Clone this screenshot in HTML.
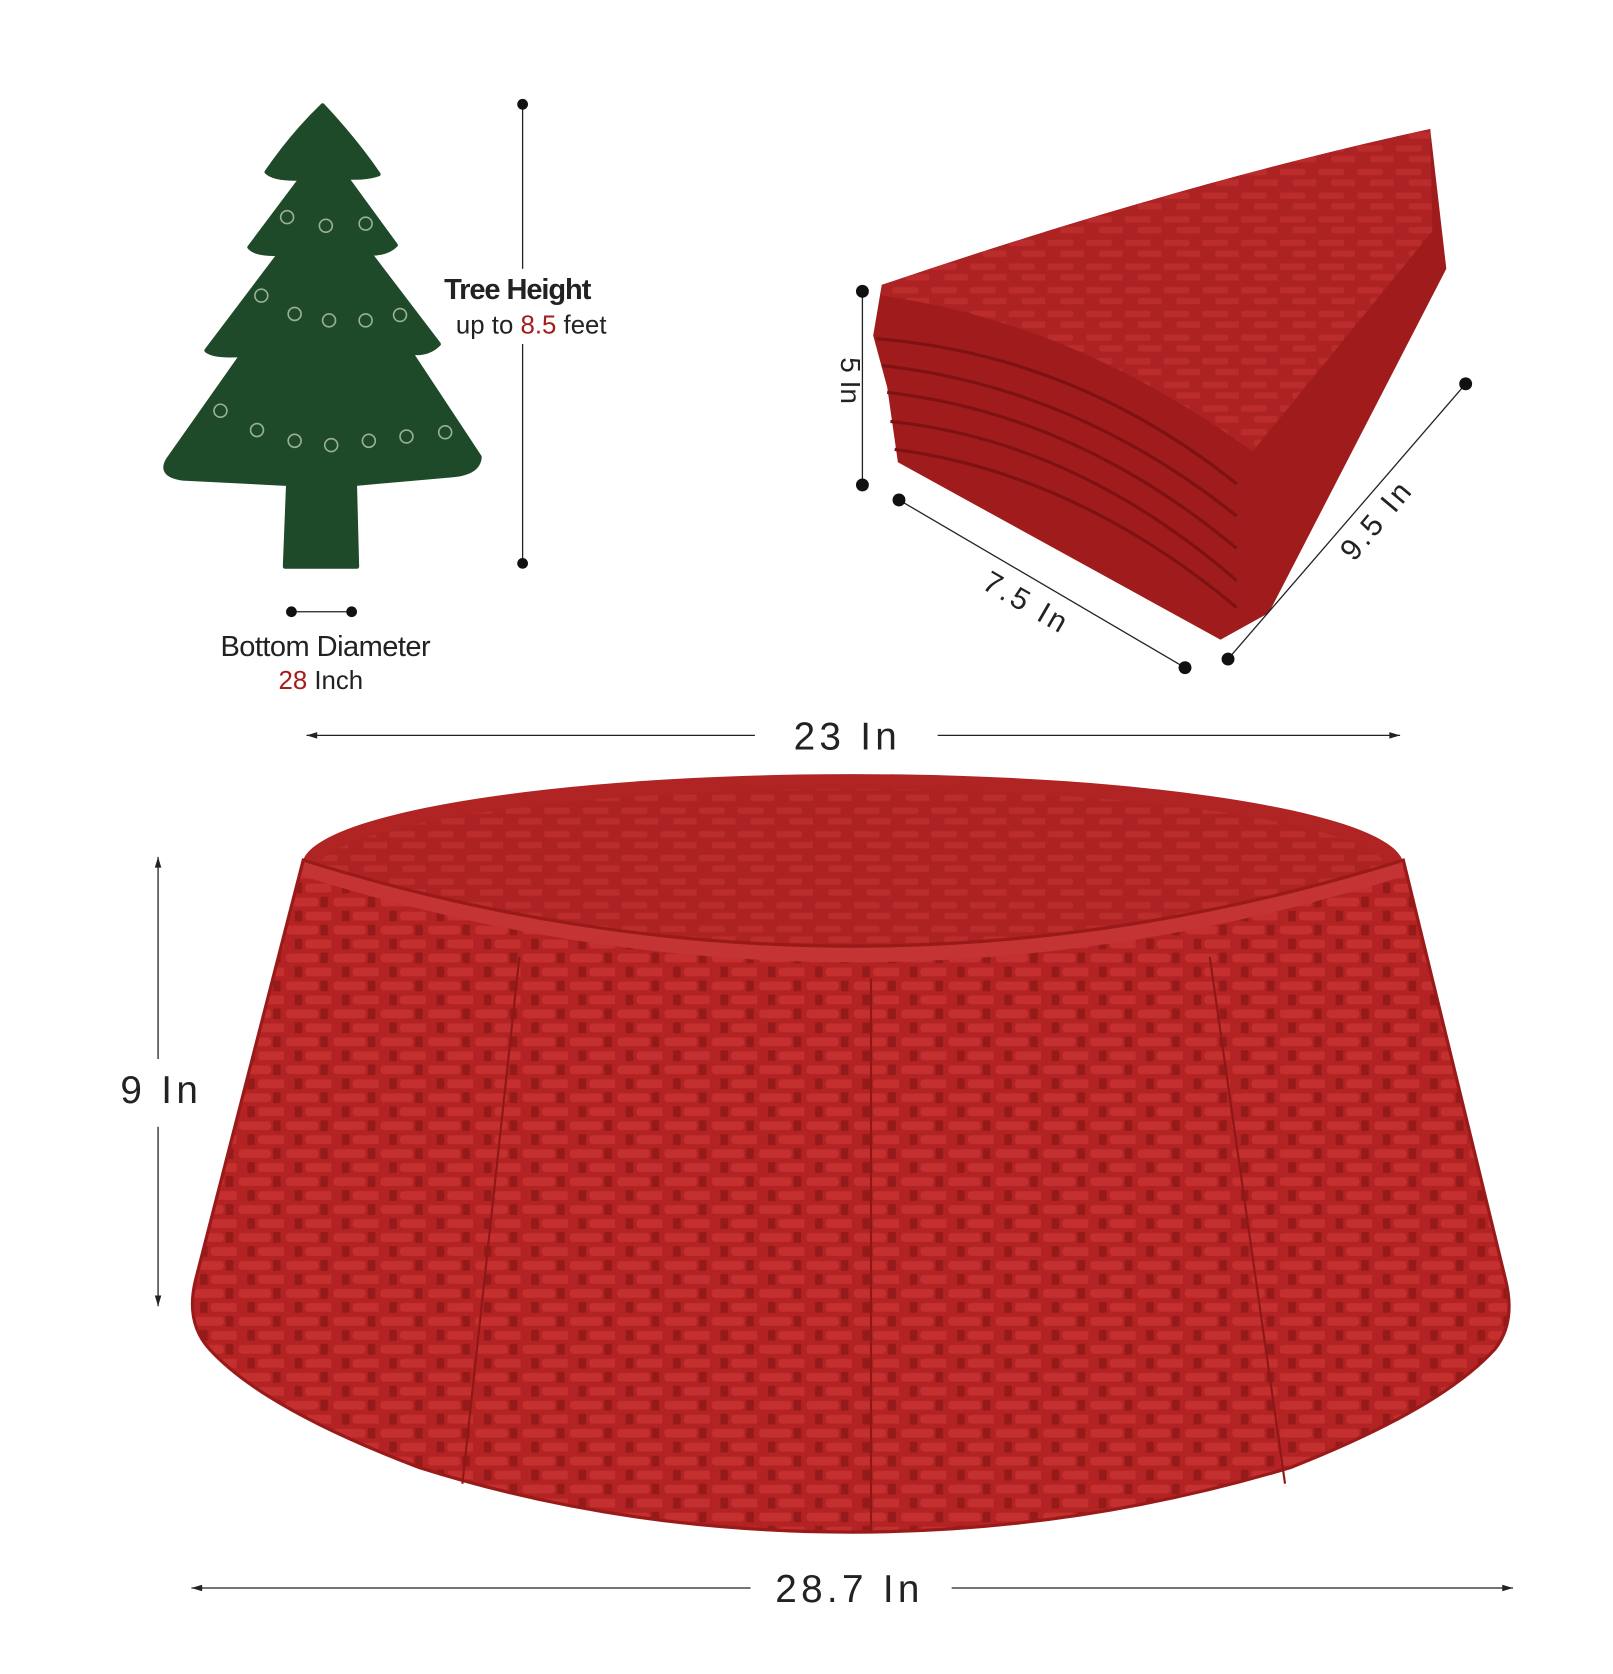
<!DOCTYPE html>
<html><head><meta charset="utf-8"><style>
html,body{margin:0;padding:0;background:#fff;}
svg{display:block;}
text{font-family:"Liberation Sans",sans-serif;}
</style></head><body>
<svg width="1613" height="1674" viewBox="0 0 1500 1557" preserveAspectRatio="none" xmlns="http://www.w3.org/2000/svg">
<defs>
<pattern id="weave" width="44" height="26" patternUnits="userSpaceOnUse">
<rect width="44" height="26" fill="#b42323"/>
<rect x="2" y="3" width="30" height="8" rx="3" fill="#c43030"/>
<rect x="34" y="2" width="7" height="10" fill="#951a1a"/>
<rect x="20" y="16" width="30" height="8" rx="3" fill="#c43030"/>
<rect x="10" y="15" width="7" height="10" fill="#951a1a"/>
</pattern>
<pattern id="weave2" width="36" height="22" patternUnits="userSpaceOnUse">
<rect width="36" height="22" fill="#ad2222"/>
<rect x="2" y="3" width="24" height="6" rx="2" fill="#bb2c2c"/>
<rect x="14" y="13" width="24" height="6" rx="2" fill="#bb2c2c"/>
</pattern>
</defs>
<rect width="1500" height="1557" fill="#fff"/>

<g>
<path d="M300,98 Q330,130 352,162 Q340,166 322,165 L368,228 Q360,236 344,236 L408,320 Q398,330 382,328 L446,425 Q445,440 420,442 L330,450 L332,527 L265,527 L268,450 L170,445 Q148,442 156,428 L225,330 Q200,332 192,326 L260,236 Q238,237 232,230 L280,166 Q255,167 248,160 Q272,125 300,98 Z" fill="#1f4a2a" stroke="#1f4a2a" stroke-linejoin="round" stroke-width="4"/>
<g fill="none" stroke="#9bb09a" stroke-width="1.5">
<circle cx="267" cy="202" r="6"/><circle cx="303" cy="210" r="6"/><circle cx="340" cy="208" r="6"/>
<circle cx="243" cy="275" r="6"/><circle cx="274" cy="292" r="6"/><circle cx="306" cy="298" r="6"/><circle cx="340" cy="298" r="6"/><circle cx="372" cy="293" r="6"/>
<circle cx="205" cy="382" r="6"/><circle cx="239" cy="400" r="6"/><circle cx="274" cy="410" r="6"/><circle cx="308" cy="414" r="6"/><circle cx="343" cy="410" r="6"/><circle cx="378" cy="406" r="6"/><circle cx="414" cy="402" r="6"/>
</g>
</g>
<g>
<line x1="486" y1="97" x2="486" y2="524" stroke="#222" stroke-width="1.2"/>
<circle cx="486" cy="97" r="5" fill="#111"/><circle cx="486" cy="524" r="5" fill="#111"/>
</g>
<rect x="410" y="250" width="175" height="70" fill="#fff"/>
<text x="413" y="278" font-size="27" font-weight="bold" fill="#222" letter-spacing="-1">Tree Height</text>
<text x="424" y="310" font-size="24" fill="#222">up to <tspan fill="#a51c1c">8.5</tspan> feet</text>
<g>
<line x1="271" y1="569" x2="327" y2="569" stroke="#222" stroke-width="1.2"/>
<circle cx="271" cy="569" r="5" fill="#111"/><circle cx="327" cy="569" r="5" fill="#111"/>
</g>
<text x="205" y="610" font-size="27" fill="#222" letter-spacing="-0.5">Bottom Diameter</text>
<text x="259" y="641" font-size="24" fill="#222"><tspan fill="#a51c1c">28</tspan> Inch</text>

<g>
<path d="M835,430 L1135,595 L1180,570 L1345,250 L1330,120 Q1100,170 820,265 L812,312 L825,360 Z" fill="#a01c1c"/>
<g fill="none" stroke="#7e1212" stroke-width="3">
<path d="M815,315 Q1000,330 1150,450"/><path d="M820,340 Q1000,360 1150,480"/><path d="M825,365 Q1000,385 1150,510"/>
<path d="M828,392 Q1000,410 1150,540"/><path d="M832,418 Q1000,440 1150,565"/>
</g>
<path d="M820,265 Q1100,170 1330,120 L1332,215 L1165,420 Q1000,300 820,275 Z" fill="url(#weave2)"/>
</g>
<g>
<line x1="802" y1="271" x2="802" y2="451" stroke="#222" stroke-width="1.2"/>
<circle cx="802" cy="271" r="6" fill="#111"/><circle cx="802" cy="451" r="6" fill="#111"/>
<text x="770" y="366" font-size="26" fill="#222" transform="rotate(90 782 366)" text-anchor="middle">5 In</text>
</g>
<g>
<line x1="836" y1="465" x2="1102" y2="621" stroke="#222" stroke-width="1.2"/>
<circle cx="836" cy="465" r="6" fill="#111"/><circle cx="1102" cy="621" r="6" fill="#111"/>
<text x="955" y="570" font-size="28" fill="#222" text-anchor="middle" transform="rotate(30 955 560)" letter-spacing="3">7.5 In</text>
</g>
<g>
<line x1="1142" y1="613" x2="1363" y2="357" stroke="#222" stroke-width="1.2"/>
<circle cx="1142" cy="613" r="6" fill="#111"/><circle cx="1363" cy="357" r="6" fill="#111"/>
<text x="1282" y="492" font-size="28" fill="#222" text-anchor="middle" transform="rotate(-50 1282 485)" letter-spacing="3">9.5 In</text>
</g>

<g>
<line x1="285" y1="684" x2="702" y2="684" stroke="#222" stroke-width="1.2"/>
<line x1="872" y1="684" x2="1302" y2="684" stroke="#222" stroke-width="1.2"/>
<path d="M285,684 l10,-3 v6 z M1302,684 l-10,-3 v6 z" fill="#222"/>
<text x="788" y="697" font-size="36" fill="#222" text-anchor="middle" letter-spacing="4">23 In</text>
</g>

<g>
<ellipse cx="793" cy="805" rx="512" ry="85" fill="#b02424"/>
<ellipse cx="793" cy="812" rx="500" ry="78" fill="url(#weave2)"/>
<path d="M282,800 Q793,960 1305,800 L1400,1190 Q1410,1230 1390,1255 Q1340,1310 1200,1365 Q1000,1425 793,1425 Q580,1425 390,1365 Q245,1310 195,1255 Q172,1230 182,1190 Z" fill="url(#weave)"/>
<path d="M282,800 Q793,960 1305,800 L1305,815 Q793,975 282,815 Z" fill="#c53434"/>
<path d="M282,800 Q793,960 1305,800 L1400,1190 Q1410,1230 1390,1255 Q1340,1310 1200,1365 Q1000,1425 793,1425 Q580,1425 390,1365 Q245,1310 195,1255 Q172,1230 182,1190 Z" fill="none" stroke="#9a1a1a" stroke-width="3"/>
<g stroke="#8e1818" stroke-width="2">
<line x1="483" y1="890" x2="430" y2="1380"/><line x1="810" y1="910" x2="810" y2="1425"/><line x1="1125" y1="890" x2="1195" y2="1380"/>
</g>
</g>

<g>
<line x1="147" y1="797" x2="147" y2="985" stroke="#222" stroke-width="1.2"/>
<line x1="147" y1="1048" x2="147" y2="1215" stroke="#222" stroke-width="1.2"/>
<path d="M147,797 l-3,10 h6 z M147,1215 l-3,-10 h6 z" fill="#222"/>
<text x="150" y="1026" font-size="36" fill="#222" text-anchor="middle" letter-spacing="4">9 In</text>
</g>
<g>
<line x1="178" y1="1477" x2="698" y2="1477" stroke="#222" stroke-width="1.2"/>
<line x1="885" y1="1477" x2="1407" y2="1477" stroke="#222" stroke-width="1.2"/>
<path d="M178,1477 l10,-3 v6 z M1407,1477 l-10,-3 v6 z" fill="#222"/>
<text x="790" y="1490" font-size="36" fill="#222" text-anchor="middle" letter-spacing="4">28.7 In</text>
</g>
</svg>
</body></html>
